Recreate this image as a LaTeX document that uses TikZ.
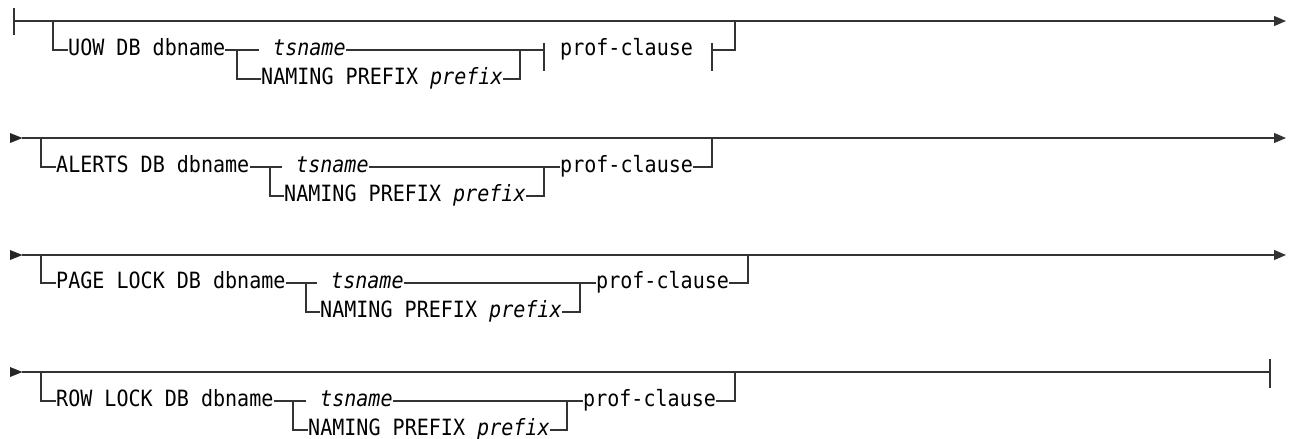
\documentclass[tikz,border=0pt]{standalone}
\usepackage{fontspec}
\setmonofont{DejaVu Sans Mono}[FakeStretch=0.895]
\usetikzlibrary{arrows.meta}
\begin{document}
\begin{tikzpicture}[x=1pt,y=-1pt,
  rr/.style={line width=1.2pt, draw=black!80},
  lbl/.style={font=\ttfamily\fontsize{22.4}{24}\selectfont, inner sep=0pt, text height=14pt, text depth=4pt, anchor=west, text=black},
  endarrow/.style={-{Triangle[length=12pt,width=10pt]}},
  starttri/.style={fill=black!85}]
\useasboundingbox (0,0) rectangle (1291,439);

% ---------- Row 1 ----------
\coordinate (s1) at (14,21);
\coordinate (e1) at (1286,21);
\draw[rr] (14,8) -- (14,35);
\draw[rr,endarrow] (s1) -- (e1);
\coordinate (b1) at (53,21);
\node[lbl] (uow) at (68,50) {UOW DB dbname};
\coordinate (sp1) at (237,50);
\node[lbl] (ts1) at (273,50) {\textit{tsname}};
\node[lbl] (np1) at (261,79) {NAMING PREFIX \textit{prefix}};
\coordinate (j1) at (520,50);
\coordinate (fl1) at (544,50);
\node[lbl] (pc1) at (560,50) {prof-clause};
\coordinate (fr1) at (712,50);
\coordinate (u1) at (735,21);
\draw[rr] (b1) |- (uow.west);
\draw[rr] (uow.east) -- (sp1) -- ([xshift=-14pt]ts1.west);
\draw[rr] (sp1) |- (np1.west);
\draw[rr] (ts1.east) -- (j1);
\draw[rr] (np1.east) -| (j1);
\draw[rr] (j1) -- (fl1);
\draw[rr] (544,43) -- (544,71);
\draw[rr] (712,43) -- (712,71);
\draw[rr] (fr1) -| (u1);

% ---------- Row 2 ----------
\fill[starttri] (10,133) -- (22.5,138) -- (10,143) -- cycle;
\coordinate (s2) at (22,138);
\coordinate (e2) at (1286,138);
\draw[rr,endarrow] (s2) -- (e2);
\coordinate (b2) at (41,138);
\node[lbl] (al) at (56,167) {ALERTS DB dbname};
\coordinate (sp2) at (270,167);
\node[lbl] (ts2) at (296,167) {\textit{tsname}};
\node[lbl] (np2) at (284,196) {NAMING PREFIX \textit{prefix}};
\coordinate (j2) at (544,167);
\node[lbl] (pc2) at (560,167) {prof-clause};
\coordinate (u2) at (712,138);
\draw[rr] (b2) |- (al.west);
\draw[rr] (al.east) -- (sp2) -- ([xshift=-14pt]ts2.west);
\draw[rr] (sp2) |- (np2.west);
\draw[rr] (ts2.east) -- (j2);
\draw[rr] (np2.east) -| (j2);
\draw[rr] (j2) -- (pc2.west);
\draw[rr] (pc2.east) -| (u2);

% ---------- Row 3 ----------
\fill[starttri] (10,250) -- (22.5,255) -- (10,260) -- cycle;
\coordinate (s3) at (22,255);
\coordinate (e3) at (1286,255);
\draw[rr,endarrow] (s3) -- (e3);
\coordinate (b3) at (41,255);
\node[lbl] (pl) at (56,283) {PAGE LOCK DB dbname};
\coordinate (sp3) at (306,283);
\node[lbl] (ts3) at (331,283) {\textit{tsname}};
\node[lbl] (np3) at (320,312) {NAMING PREFIX \textit{prefix}};
\coordinate (j3) at (580,283);
\node[lbl] (pc3) at (596,283) {prof-clause};
\coordinate (u3) at (748,255);
\draw[rr] (b3) |- (pl.west);
\draw[rr] (pl.east) -- (sp3) -- ([xshift=-14pt]ts3.west);
\draw[rr] (sp3) |- (np3.west);
\draw[rr] (ts3.east) -- (j3);
\draw[rr] (np3.east) -| (j3);
\draw[rr] (j3) -- (pc3.west);
\draw[rr] (pc3.east) -| (u3);

% ---------- Row 4 ----------
\fill[starttri] (10,367) -- (22.5,372) -- (10,377) -- cycle;
\coordinate (s4) at (22,372);
\coordinate (e4) at (1270,372);
\draw[rr] (s4) -- (e4);
\draw[rr] (1270,359) -- (1270,388);
\coordinate (b4) at (41,372);
\node[lbl] (rl) at (56,401) {ROW LOCK DB dbname};
\coordinate (sp4) at (293,401);
\node[lbl] (ts4) at (320,401) {\textit{tsname}};
\node[lbl] (np4) at (308,430) {NAMING PREFIX \textit{prefix}};
\coordinate (j4) at (567,401);
\node[lbl] (pc4) at (583,401) {prof-clause};
\coordinate (u4) at (735,372);
\draw[rr] (b4) |- (rl.west);
\draw[rr] (rl.east) -- (sp4) -- ([xshift=-14pt]ts4.west);
\draw[rr] (sp4) |- (np4.west);
\draw[rr] (ts4.east) -- (j4);
\draw[rr] (np4.east) -| (j4);
\draw[rr] (j4) -- (pc4.west);
\draw[rr] (pc4.east) -| (u4);
\end{tikzpicture}
\end{document}
